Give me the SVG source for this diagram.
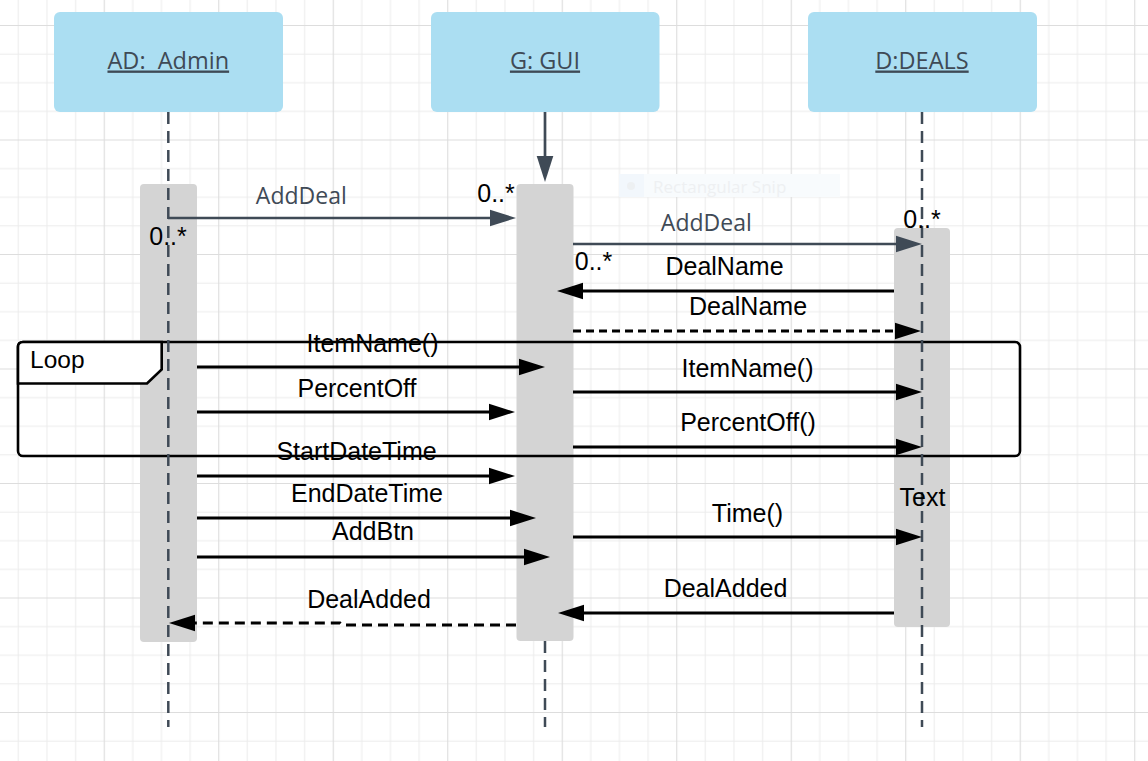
<svg xmlns="http://www.w3.org/2000/svg" width="1148" height="761" viewBox="0 0 1148 761">
<style>
.hdr{fill:#abdef2;stroke:none}
.htxt{font-family:"Open Sans","Liberation Sans",sans-serif;font-size:23.5px;fill:#3f4a56;text-anchor:middle;text-decoration:underline}
.act{fill:#d4d4d4;stroke:none}
.life{fill:none;stroke:#3f4a56;stroke-width:2.5;stroke-dasharray:12 7}
.slate{fill:none;stroke:#3f4a56;stroke-width:2.7}
.blk{fill:none;stroke:#000;stroke-width:2.8}
.dash1{stroke-dasharray:8 5}
.dash2{stroke-dasharray:10 6}
.stxt{font-family:"Open Sans","Liberation Sans",sans-serif;font-size:23px;fill:#3f4a56;text-anchor:middle}
.btxt{font-family:"Liberation Sans",Arial,sans-serif;font-size:25px;fill:#000;text-anchor:middle}
.frame{fill:none;stroke:#000;stroke-width:2.6}
</style>
<defs>
<pattern id="grid" patternUnits="userSpaceOnUse" x="103.7" y="139.5" width="114.5" height="114.5">
<rect width="114.5" height="114.5" fill="#fff"/>
<path d="M29.1 0V114.5M57.75 0V114.5M86.4 0V114.5M0 29.1H114.5M0 57.75H114.5M0 86.4H114.5" stroke="#ececec" stroke-width="1"/>
<path d="M0.5 0V114.5M0 0.5H114.5" stroke="#dddddd" stroke-width="1.2"/>
</pattern>
<marker id="ahS" markerUnits="userSpaceOnUse" markerWidth="28" markerHeight="18" refX="2" refY="8.3" orient="auto" overflow="visible">
<path d="M0 0L26 8.3L0 16.6Z" fill="#3f4a56" stroke="none"/>
</marker>
<marker id="ahB" markerUnits="userSpaceOnUse" markerWidth="28" markerHeight="18" refX="2" refY="8.2" orient="auto" overflow="visible">
<path d="M0 0L26 8.2L0 16.4Z" fill="#000" stroke="none"/>
</marker>
</defs>
<rect x="0" y="0" width="1148" height="761" fill="url(#grid)"/>

<g id="snip">
<rect x="619" y="174" width="221" height="23" fill="#f8fbfd"/>
<rect x="619" y="174" width="25" height="23" fill="#f2f7fc"/>
<circle cx="631" cy="186" r="4" fill="#edf0f2"/>
<text x="653" y="192.5" font-family="'Open Sans','Liberation Sans',sans-serif" font-size="17" fill="#eef0f2">Rectangular Snip</text>
</g>

<g id="admin">
<rect class="hdr" x="54" y="12" width="229" height="100" rx="6"/>
<text class="htxt" x="168.3" y="68.5" xml:space="preserve">AD:  Admin</text>
<rect class="act" x="140" y="184" width="57" height="458" rx="4"/>
</g>
<g id="gui">
<rect class="hdr" x="431" y="12" width="228.5" height="100" rx="6"/>
<text class="htxt" x="545" y="68.5">G: GUI</text>
<rect class="act" x="516.5" y="184" width="57" height="457" rx="4"/>
</g>
<g id="deals">
<rect class="hdr" x="808" y="12" width="229" height="100" rx="6"/>
<text class="htxt" x="922" y="68.5">D:DEALS</text>
<rect class="act" x="894" y="228" width="56" height="399" rx="4"/>
</g>

<g id="loop">
<rect class="frame" x="18" y="342" width="1002" height="114" rx="5"/>
<path d="M18 383.5H147L161.7 369.5V342H23Q18 342 18 347Z" fill="#fff" stroke="#000" stroke-width="2.6"/>
<text class="btxt" x="30" y="368.3" style="text-anchor:start;font-size:24.5px">Loop</text>
</g>

<g id="connectors">
<path class="life" d="M168.3 112V727"/>
<path class="life" d="M922 112V727"/>
<path class="life" d="M545 641V727"/>
<path class="slate" d="M545 112V158" marker-end="url(#ahS)"/>
<path class="slate" d="M168 218H492" marker-end="url(#ahS)"/>
<path class="slate" d="M573 244H898" marker-end="url(#ahS)"/>
<path class="blk" d="M894 291H581" marker-end="url(#ahB)"/>
<path class="blk dash1" d="M573 331H897" marker-end="url(#ahB)"/>
<path class="blk" d="M197 367H521" marker-end="url(#ahB)"/>
<path class="blk" d="M197 412H491" marker-end="url(#ahB)"/>
<path class="blk" d="M573 392H898" marker-end="url(#ahB)"/>
<path class="blk" d="M573 447H898" marker-end="url(#ahB)"/>
<path class="blk" d="M197 476H491" marker-end="url(#ahB)"/>
<path class="blk" d="M197 518H512" marker-end="url(#ahB)"/>
<path class="blk" d="M197 557H526" marker-end="url(#ahB)"/>
<path class="blk" d="M573 537H898" marker-end="url(#ahB)"/>
<path class="blk" d="M894 613H582" marker-end="url(#ahB)"/>
<path class="blk dash2" d="M516 625H342L340 623H193" marker-end="url(#ahB)"/>
</g>

<g id="labels">
<text class="stxt" x="301.3" y="204">AddDeal</text>
<text class="stxt" x="706.3" y="230.7">AddDeal</text>
<text class="btxt" x="168" y="245">0..*</text>
<text class="btxt" x="496" y="201.7">0..*</text>
<text class="btxt" x="593.5" y="270">0..*</text>
<text class="btxt" x="922" y="228.3">0..*</text>
<text class="btxt" x="724.5" y="275">DealName</text>
<text class="btxt" x="748" y="315">DealName</text>
<text class="btxt" x="372.5" y="352">ItemName()</text>
<text class="btxt" x="357" y="396.5">PercentOff</text>
<text class="btxt" x="747.5" y="376.7">ItemName()</text>
<text class="btxt" x="748" y="431">PercentOff()</text>
<text class="btxt" x="356.5" y="460">StartDateTime</text>
<text class="btxt" x="367" y="502.3">EndDateTime</text>
<text class="btxt" x="373" y="540">AddBtn</text>
<text class="btxt" x="747.5" y="521.7">Time()</text>
<text class="btxt" x="922.5" y="506">Text</text>
<text class="btxt" x="725.5" y="596.7">DealAdded</text>
<text class="btxt" x="369" y="608.3">DealAdded</text>
</g>
</svg>
